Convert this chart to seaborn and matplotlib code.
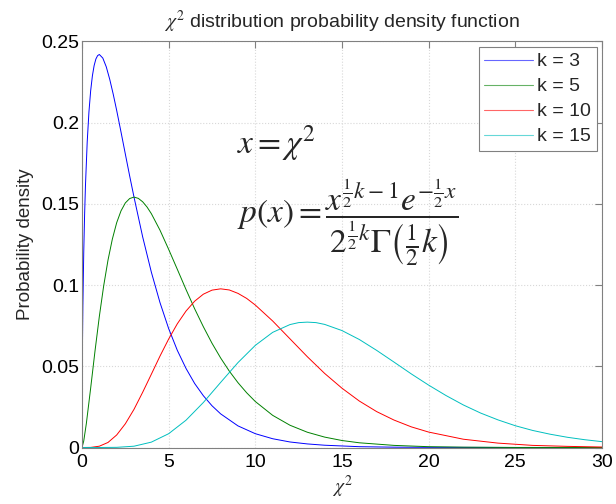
import matplotlib
matplotlib.use("Agg")
import matplotlib.pyplot as plt
from matplotlib.ticker import FormatStrFormatter
from matplotlib.lines import Line2D
import seaborn as sns
import pandas as pd

# values
x_k3 = [0, 0.02, 0.05, 0.1, 0.15, 0.2, 0.3, 0.4, 0.5, 0.6, 0.7, 0.8, 0.9, 1.0, 1.2, 1.4, 1.6, 1.8, 2.0,
        2.25, 2.5, 2.75, 3, 3.5, 4, 4.5, 5, 5.5, 6, 6.5, 7, 7.5, 8, 9, 10, 11, 12, 13, 14, 16, 18, 20, 25, 30]
y_k3 = [0, 0.0559, 0.0870, 0.1200, 0.1433, 0.1614, 0.1881, 0.2066, 0.2197, 0.2289, 0.2352, 0.2392, 0.2413,
        0.2420, 0.2398, 0.2344, 0.2267, 0.2176, 0.2076, 0.1943, 0.1807, 0.1672, 0.1542, 0.1297, 0.1080,
        0.0892, 0.0732, 0.0598, 0.0487, 0.0394, 0.0319, 0.0257, 0.0207, 0.0133, 0.0085, 0.0054, 0.0034,
        0.0022, 0.0014, 0.0005, 0.0002, 0.0001, 0.0, 0.0]

x_k5 = [0, 0.1, 0.25, 0.5, 0.75, 1, 1.25, 1.5, 1.75, 2, 2.25, 2.5, 2.75, 3, 3.25, 3.5, 3.75, 4, 4.5, 5,
        5.5, 6, 6.5, 7, 7.5, 8, 8.5, 9, 9.5, 10, 11, 12, 13, 14, 15, 16, 18, 20, 22, 25, 30]
y_k5 = [0, 0.0040, 0.0147, 0.0366, 0.0594, 0.0807, 0.0995, 0.1154, 0.1283, 0.1384, 0.1457, 0.1506, 0.1533,
        0.1542, 0.1534, 0.1513, 0.1481, 0.1440, 0.1338, 0.1220, 0.1097, 0.0973, 0.0854, 0.0744, 0.0642,
        0.0551, 0.0470, 0.0399, 0.0337, 0.0283, 0.0198, 0.0137, 0.0094, 0.0064, 0.0043, 0.0029, 0.0013,
        0.0005, 0.0002, 0.00004, 0.0]

x_k10 = [0, 0.5, 1, 1.5, 2, 2.5, 3, 3.5, 4, 4.5, 5, 5.5, 6, 6.5, 7, 7.5, 8, 8.5, 9, 9.5, 10, 11, 12, 13,
         14, 15, 16, 17, 18, 19, 20, 22, 24, 26, 28, 30]
y_k10 = [0, 0.00006, 0.0008, 0.0031, 0.0077, 0.0146, 0.0235, 0.0340, 0.0451, 0.0563, 0.0668, 0.0762,
         0.0840, 0.0901, 0.0944, 0.0969, 0.0977, 0.0970, 0.0949, 0.0918, 0.0877, 0.0779, 0.0669, 0.0559,
         0.0456, 0.0365, 0.0286, 0.0221, 0.0169, 0.0127, 0.0095, 0.0051, 0.0027, 0.0013, 0.0007, 0.0003]

x_k15 = [0, 1, 2, 3, 4, 5, 6, 7, 8, 9, 10, 11, 12, 12.5, 13, 13.5, 14, 15, 16, 17, 18, 19, 20, 21, 22,
         23, 24, 25, 26, 27, 28, 29, 30]
y_k15 = [0, 0.0, 0.0001, 0.0008, 0.0033, 0.0085, 0.0168, 0.0277, 0.0401, 0.0523, 0.0629, 0.0709, 0.0757,
         0.0769, 0.0772, 0.0769, 0.0758, 0.0720, 0.0665, 0.0598, 0.0526, 0.0453, 0.0384, 0.0320, 0.0262,
         0.0212, 0.0170, 0.0134, 0.0105, 0.0082, 0.0063, 0.0048, 0.0036]

labels = ["k = 3", "k = 5", "k = 10", "k = 15"]
colors = ["#0000ff", "#008000", "#ff0000", "#00bfbf"]
x_ticks = [0, 5, 10, 15, 20, 25, 30]
y_ticks = [0, 0.05, 0.1, 0.15, 0.2, 0.25]

frames = []
for lab, xs, ys in zip(labels, [x_k3, x_k5, x_k10, x_k15], [y_k3, y_k5, y_k10, y_k15]):
    frames.append(pd.DataFrame({"x": xs, "y": ys, "k": lab}))
df = pd.concat(frames, ignore_index=True)

sns.set_style("white")
plt.rcParams["font.family"] = ["Liberation Sans", "DejaVu Sans"]
plt.rcParams["mathtext.fontset"] = "stix"

fig = plt.figure(figsize=(6.16, 5.04), dpi=100)
ax = fig.add_axes([82 / 616, 1 - 447.5 / 504, 520 / 616, 406 / 504])

sns.lineplot(data=df, x="x", y="y", hue="k", palette=dict(zip(labels, colors)),
             hue_order=labels, estimator=None, sort=False, linewidth=0.7, ax=ax, legend=False)

ax.set_xlim(0, 30)
ax.set_ylim(0, 0.25)
ax.set_xticks(x_ticks)
ax.set_yticks(y_ticks)
ax.yaxis.set_major_formatter(FormatStrFormatter("%g"))
ax.tick_params(direction="in", length=5, top=True, right=True, labelsize=14,
               color="#808080", labelcolor="black", pad=2)
ax.tick_params(axis="x", pad=5)
for s in ax.spines.values():
    s.set_color("#808080")
    s.set_linewidth(0.8)
ax.grid(True, linestyle=":", color="#d8d8d8", linewidth=0.8)

ax.set_title(r"$\chi^2$ distribution probability density function", fontsize=14, pad=10)
ax.set_xlabel(r"$\chi^2$", fontsize=14, labelpad=2)
ax.set_ylabel("Probability density", fontsize=13.5, labelpad=5)

ax.text(8.94, 0.1875, r"$x = \chi^2$", fontsize=24, va="center", ha="left")
ax.text(8.94, 0.1389,
        r"$p(x) = \dfrac{x^{\frac{1}{2}k-1}e^{-\frac{1}{2}x}}{2^{\frac{1}{2}k}\Gamma\left(\frac{1}{2}k\right)}$",
        fontsize=24, va="center", ha="left")

handles = [Line2D([], [], color=c, linewidth=0.8, alpha=0.6) for c in colors]
leg = ax.legend(handles, labels, loc="upper right", fontsize=14, frameon=True, fancybox=False,
                framealpha=1, edgecolor="#808080", borderaxespad=0.28, handlelength=2.5,
                handletextpad=0.2, labelspacing=0.38, borderpad=0.3)
leg.get_frame().set_linewidth(0.8)

fig.savefig("out.png", dpi=100)
